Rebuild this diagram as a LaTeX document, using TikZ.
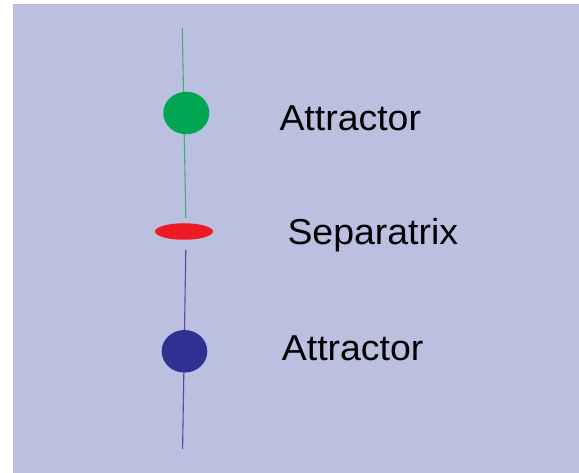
\documentclass[tikz,border=0pt]{standalone}
\usepackage{fontspec}
\setmainfont{Liberation Sans}
\usetikzlibrary{shapes.geometric}
\definecolor{bgc}{HTML}{BBBFE0}
\definecolor{gc}{HTML}{00A651}
\definecolor{rc}{HTML}{ED1C24}
\definecolor{bc}{HTML}{2E3192}
\tikzset{
  dot/.style={ellipse, inner sep=0pt, draw=none},
  lbl/.style={anchor=base west, inner sep=0pt, font=\fontsize{36}{40}\selectfont, text=black, xscale=1.04},
  stem/.style={line width=1.1pt},
}
\begin{document}
\begin{tikzpicture}[x=1pt,y=-1pt]
\useasboundingbox (0,0) rectangle (579,473);
\fill[bgc] (13,4) rectangle (579,473);
% coordinates
\coordinate (gtop) at (182.3,28);
\coordinate (gbot) at (185.8,218);
\coordinate (btop) at (185.8,250);
\coordinate (bbot) at (182.6,449);
\draw[stem, gc!80!white] (gtop) -- (gbot);
\draw[stem, bc!85!white] (btop) -- (bbot);
\node[dot, fill=gc, minimum width=46pt, minimum height=42.6pt] (att1) at (186.3,113) {};
\node[dot, fill=rc, minimum width=58pt, minimum height=16.5pt] (sep) at (184,231.5) {};
\node[dot, fill=bc, minimum width=45.6pt, minimum height=42.6pt] (att2) at (184.5,351.3) {};
\node[lbl] (t1) at (279.3,130.7) {Attractor};
\node[lbl] (t2) at (287.3,245) {Separatrix};
\node[lbl] (t3) at (281.7,360.7) {Attractor};
\end{tikzpicture}
\end{document}
